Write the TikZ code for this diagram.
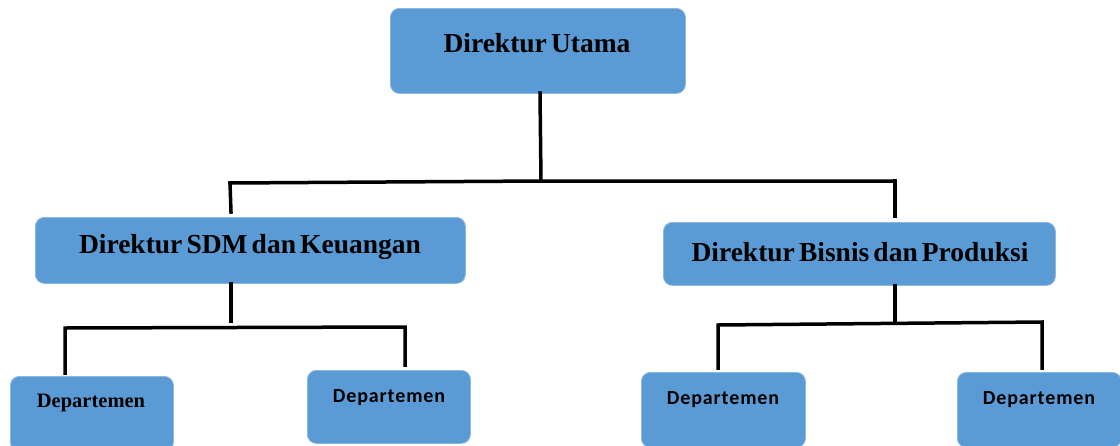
\documentclass[tikz,border=0pt]{standalone}
\usepackage{fontspec}
\setmainfont{Liberation Serif}[WordSpace=0.6]
\newfontfamily\deptsans[LetterSpace=4.5]{Carlito}
\definecolor{boxblue}{HTML}{5B9BD5}
\definecolor{boxedge}{HTML}{8CB8E2}
\begin{document}
\begin{tikzpicture}[x=1pt,y=-1pt,
  orgbox/.style={draw=boxedge,line width=0.8pt,fill=boxblue,rounded corners=9pt,anchor=north west,inner sep=0pt},
  bigtxt/.style={font=\bfseries\fontsize{27.5}{32}\selectfont,inner sep=0pt},
  toptxt/.style={font=\bfseries\fontsize{27.5}{32}\selectfont,inner sep=0pt},
  serdept/.style={font=\bfseries\fontsize{20.5}{24}\selectfont,inner sep=0pt},
  sansdept/.style={font=\deptsans\bfseries\fontsize{20}{24}\selectfont,inner sep=0pt},
  conn/.style={line width=3.5pt,line cap=rect}]
\useasboundingbox (0,0) rectangle (1120,445);
% boxes
\node[orgbox,minimum width=295pt,minimum height=85pt] (U) at (390,8) {};
\node[orgbox,minimum width=430pt,minimum height=66pt] (S) at (35,217) {};
\node[orgbox,minimum width=392pt,minimum height=63pt] (B) at (663,222) {};
\node[orgbox,minimum width=163pt,minimum height=75pt] (D1) at (10,376) {};
\node[orgbox,minimum width=163pt,minimum height=73pt] (D2) at (307,370) {};
\node[orgbox,minimum width=164pt,minimum height=75pt] (D3) at (641,372) {};
\node[orgbox,minimum width=164pt,minimum height=75pt] (D4) at (957,372) {};
% texts
\node[toptxt] (tU) at (537,43) {Direktur Utama};
\node[bigtxt] (tS) at (250,247) {Direktur SDM dan Keuangan};
\node[bigtxt] (tB) at (860,252) {Direktur Bisnis dan Produksi};
\node[serdept] (t1) at (91,403) {Departemen};
\node[sansdept] (t2) at (389,398) {Departemen};
\node[sansdept] (t3) at (723,400) {Departemen};
\node[sansdept] (t4) at (1039,400) {Departemen};
% junction coordinates
\coordinate (a0) at (540,93);
\coordinate (a1) at (541,181);
\coordinate (hL) at (230,183);
\coordinate (hR) at (895,181);
\coordinate (sL) at (231,212);
\coordinate (sR) at (895,216);
\coordinate (s0) at (231,284);
\coordinate (s1) at (231,321);
\coordinate (sl) at (65,328);
\coordinate (sr) at (405,327);
\coordinate (d1) at (65,373);
\coordinate (d2) at (405,365);
\coordinate (b0) at (895,286);
\coordinate (b1) at (895,322);
\coordinate (bl) at (718,325);
\coordinate (br) at (1042,322);
\coordinate (d3) at (718,368);
\coordinate (d4) at (1042,368);
% connectors
\draw[conn] (a0) -- (a1);
\draw[conn] (hL) -- (a1) -- (hR);
\draw[conn] (hL) -- (sL);
\draw[conn] (hR) -- (sR);
\draw[conn] (s0) -- (s1);
\draw[conn] (d1) -- (sl) -- (sr) -- (d2);
\draw[conn] (b0) -- (b1);
\draw[conn] (d3) -- (bl) -- (br) -- (d4);
\end{tikzpicture}
\end{document}
